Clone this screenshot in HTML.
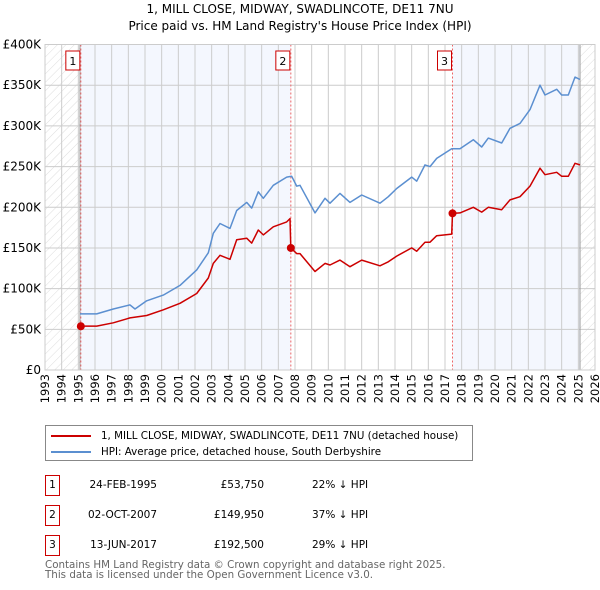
<!DOCTYPE html>
<html><head><meta charset="utf-8"><style>
body{margin:0;background:#fff;font-family:"DejaVu Sans","Liberation Sans",sans-serif;}
.wrap{position:relative;width:600px;height:590px;overflow:hidden;}
.t{position:absolute;font-size:12px;color:#000;white-space:nowrap;}
</style></head><body>
<div class="wrap">
<div class="t" style="left:0;width:600px;text-align:center;top:2px;">1, MILL CLOSE, MIDWAY, SWADLINCOTE, DE11 7NU</div>
<div class="t" style="left:0;width:600px;text-align:center;top:19px;">Price paid vs. HM Land Registry's House Price Index (HPI)</div>
<svg id="chart" width="600" height="415" style="position:absolute;left:0;top:0" font-family="DejaVu Sans, Liberation Sans, sans-serif"></svg>
<div style="position:absolute;left:45px;top:425px;width:426px;height:34px;border:1px solid #888;font-size:10.3px;">
 <div style="position:absolute;left:5px;top:4px;white-space:nowrap"><span style="display:inline-block;width:40px;height:2px;background:#cc0000;vertical-align:middle;margin-right:10px"></span>1, MILL CLOSE, MIDWAY, SWADLINCOTE, DE11 7NU (detached house)</div>
 <div style="position:absolute;left:5px;top:20px;white-space:nowrap"><span style="display:inline-block;width:40px;height:2px;background:#5b8fd0;vertical-align:middle;margin-right:10px"></span>HPI: Average price, detached house, South Derbyshire</div>
</div>
<div id="tbl"></div>
<div class="t" style="left:45px;top:560px;font-size:10.3px;color:#666;line-height:10px">Contains HM Land Registry data © Crown copyright and database right 2025.<br>This data is licensed under the Open Government Licence v3.0.</div>
</div>
<script>
const hpiYears=[1995.1,1996.1,1997.1,1998.1,1998.4,1999.1,2000.1,2001.1,2002.1,2002.8,2003.1,2003.5,2004.1,2004.5,2005.1,2005.4,2005.8,2006.1,2006.7,2007.5,2007.8,2008.1,2008.3,2009.2,2009.8,2010.1,2010.7,2011.3,2012.0,2013.1,2013.6,2014.1,2015.0,2015.3,2015.8,2016.1,2016.5,2017.4,2017.9,2018.7,2019.2,2019.6,2020.4,2020.9,2021.5,2022.1,2022.7,2023.0,2023.7,2024.0,2024.4,2024.8,2025.1];
const hpiValues=[69,69,75,80,75,85,92,104,123,144,168,180,174,196,206,199,219,211,227,237,238,226,227,193,211,205,217,206,215,205,213,223,237,232,252,250,260,272,272,283,274,285,279,297,303,320,350,338,345,338,338,360,357];
const ppYears=[1995.15,1996.1,1997.1,1998.1,1999.1,2000.1,2001.1,2002.1,2002.8,2003.1,2003.5,2004.1,2004.5,2005.1,2005.4,2005.8,2006.1,2006.7,2007.5,2007.7,2007.75,2008.1,2008.3,2009.2,2009.8,2010.1,2010.7,2011.3,2012.0,2013.1,2013.6,2014.1,2015.0,2015.3,2015.8,2016.1,2016.5,2017.4,2017.45,2017.9,2018.7,2019.2,2019.6,2020.4,2020.9,2021.5,2022.1,2022.7,2023.0,2023.7,2024.0,2024.4,2024.8,2025.1];
const ppValues=[54,54,58,64,67,74,82,94,113,131,141,136,160,162,156,172,166,176,182,186,150,143,143,121,131,129,135,127,135,128,133,140,150,146,157,157,165,167,192.5,193,200,194,200,197,209,213,226,248,240,243,238,238,254,252];
const saleYears=[1995.15,2007.75,2017.45];
const saleValues=[53.75,149.95,192.5];
const saleLabels=["1","2","3"];
const yTicks=[0,50,100,150,200,250,300,350,400];
const yTickLabels=["£0","£50K","£100K","£150K","£200K","£250K","£300K","£350K","£400K"];
const tableDates=["24-FEB-1995","02-OCT-2007","13-JUN-2017"];
const tablePrices=["£53,750","£149,950","£192,500"];
const tableDiffs=["22% ↓ HPI","37% ↓ HPI","29% ↓ HPI"];

const X0=45,X1=595,Y0=370,Y1=44.5,yMin=1993,yMax=2026;
const xs=y=>X0+(y-yMin)/(yMax-yMin)*(X1-X0);
const ys=v=>Y0-v/400*(Y0-Y1);
const svg=document.getElementById('chart');
const NS='http://www.w3.org/2000/svg';
function mk(tag,attrs,parent){const e=document.createElementNS(NS,tag);for(const k in attrs)e.setAttribute(k,attrs[k]);(parent||svg).appendChild(e);return e;}
const defs=mk('defs',{});
const pat=mk('pattern',{id:'hatch',width:6,height:6,patternUnits:'userSpaceOnUse',patternTransform:'rotate(45)'},defs);
mk('line',{x1:0,y1:0,x2:0,y2:6,stroke:'#ddd','stroke-width':1},pat);
let r=mk('rect',{x:xs(saleYears[0]),y:Y1,width:xs(saleYears[1])-xs(saleYears[0]),height:Y0-Y1,fill:'#f4f7fe'});

r=mk('rect',{x:xs(saleYears[2]),y:Y1,width:xs(2025.1)-xs(saleYears[2]),height:Y0-Y1,fill:'#f4f7fe'});

r=mk('rect',{x:X0,y:Y1,width:xs(1995.1)-X0,height:Y0-Y1,fill:'url(#hatch)'});

r=mk('rect',{x:xs(2025.1),y:Y1,width:X1-xs(2025.1),height:Y0-Y1,fill:'url(#hatch)'});

for(let y=yMin;y<=yMax;y++){const l=mk('line',{x1:xs(y),x2:xs(y),y1:Y1,y2:Y0,stroke:'#ccc','stroke-width':1});

const tx=xs(y)+4,ty=Y0+4;
const t=mk('text',{x:tx,y:ty,'font-size':11.5,'text-anchor':'end',fill:'#000',transform:'rotate(-90 '+tx+' '+ty+')'});t.textContent=y;
}
yTicks.forEach((v,i)=>{const l=mk('line',{x1:X0,x2:X1,y1:ys(v),y2:ys(v),stroke:'#ccc','stroke-width':1});

const t=mk('text',{x:X0-4,y:ys(v)+4,'font-size':12,'text-anchor':'end',fill:'#000'});t.textContent=yTickLabels[i];
});
[1995.1,2025.1].forEach(y=>{const l=mk('line',{x1:xs(y),x2:xs(y),y1:Y1,y2:Y0,stroke:'#999','stroke-width':1});
});
saleYears.forEach((y,i)=>{const l=mk('line',{x1:xs(y),x2:xs(y),y1:Y1,y2:Y0,stroke:'#e66','stroke-width':1,'stroke-dasharray':'2,2'});

const b=mk('rect',{x:xs(y)-15,y:51,width:14,height:19,fill:'#fff',stroke:'#cc0000','stroke-width':1});

const t=mk('text',{x:xs(y)-8,y:65,'font-size':11,'text-anchor':'middle'});t.textContent=saleLabels[i];
});
function line(xsArr,vs,col,name){const p=mk('path',{d:xsArr.map((y,i)=>(i?'L':'M')+xs(y).toFixed(1)+','+ys(vs[i]).toFixed(1)).join(''),fill:'none',stroke:col,'stroke-width':1.5,'stroke-linejoin':'round'});
}
line(hpiYears,hpiValues,'#5b8fd0','hpi-line');
line(ppYears,ppValues,'#cc0000','price-paid-line');
saleYears.forEach((y,i)=>{const c=mk('circle',{cx:xs(y),cy:ys(saleValues[i]),r:4,fill:'#cc0000'});
});
mk('rect',{x:X0,y:Y1,width:X1-X0,height:Y0-Y1,fill:'none',stroke:'#ccc'});
const tbl=document.getElementById('tbl');
tableDates.forEach((d,i)=>{const top=475+i*30;
const row=document.createElement('div');
row.style.cssText='position:absolute;left:0;top:'+top+'px;width:600px;height:22px;font-size:10.5px;';
row.innerHTML='<div style="position:absolute;left:45px;top:0;width:13px;height:19px;border:1px solid #cc0000;text-align:center;line-height:18px">'+saleLabels[i]+'</div>'+
'<div style="position:absolute;left:60px;width:97px;text-align:right;line-height:20px">'+d+'</div>'+
'<div style="position:absolute;left:180px;width:84px;text-align:right;line-height:20px">'+tablePrices[i]+'</div>'+
'<div style="position:absolute;left:312px;line-height:20px">'+tableDiffs[i]+'</div>';
tbl.appendChild(row);});
</script>
</body></html>
